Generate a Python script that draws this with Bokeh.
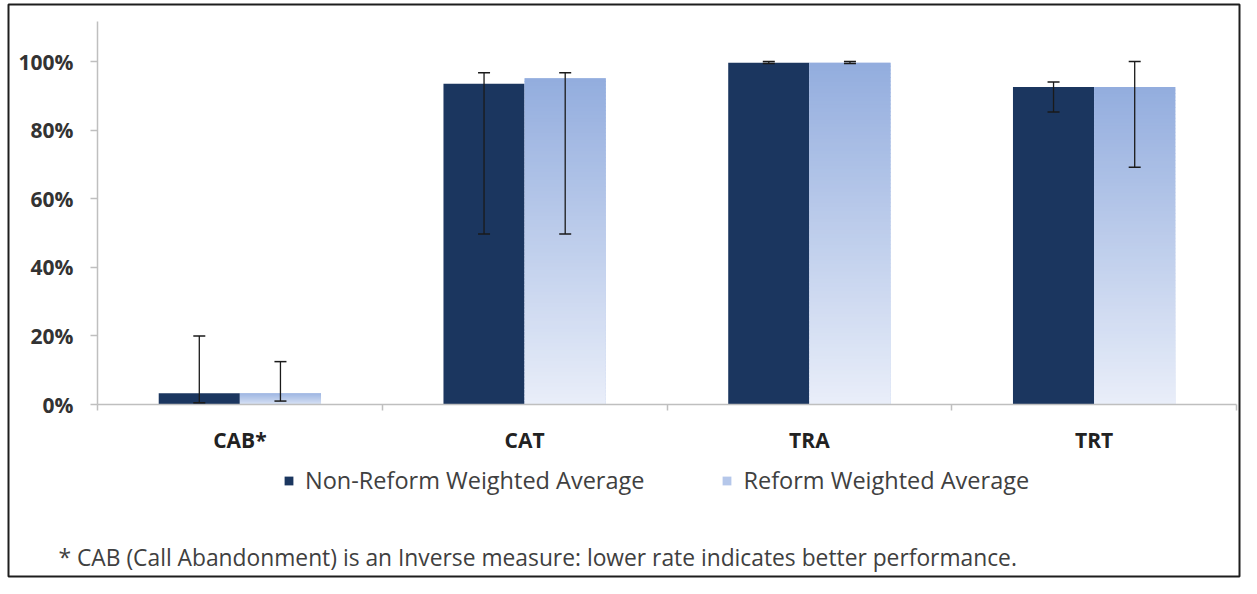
import numpy as np
from bokeh.plotting import figure
from bokeh.models import (ColumnDataSource, Range1d, FixedTicker, NumeralTickFormatter,
                          Whisker, TeeHead, Legend, LegendItem, Label, BoxAnnotation)
from bokeh.embed import file_html
from bokeh.resources import INLINE

# ---------------- data ----------------
categories = ["CAB*", "CAT", "TRA", "TRT"]
nonreform_avg = [0.033, 0.935, 0.996, 0.926]
reform_avg = [0.033, 0.951, 0.996, 0.926]
nonreform_upper = [0.200, 0.967, 1.000, 0.940]
nonreform_lower = [0.005, 0.497, 0.994, 0.853]
reform_upper = [0.125, 0.967, 1.000, 1.000]
reform_lower = [0.010, 0.497, 0.994, 0.692]
y_ticks = [0.0, 0.2, 0.4, 0.6, 0.8, 1.0]
y_axis_top = 1.117
series_names = ["Non-Reform Weighted Average", "Reform Weighted Average"]
footnote = "* CAB (Call Abandonment) is an Inverse measure: lower rate indicates better performance."

# ---------------- style / layout ----------------
DARK = "#1B365F"
LIGHT_TOP = (0x93, 0xAD, 0xDE)
LIGHT_BOTTOM = (0xE9, 0xEE, 0xF9)
LIGHT_LEGEND = "#B5C7EA"
AXIS_GRAY = "#BFBFBF"
FONT = "Open Sans"

W, H = 1241, 578
PLOT_LEFT, PLOT_RIGHT = 97, 1236      # pixel positions of the category axis ends
ZERO_Y, ONE_Y = 404, 61               # pixel positions of 0% and 100%
ppx = (PLOT_RIGHT - PLOT_LEFT) / len(categories)
ppy = ZERO_Y - ONE_Y
x_range = Range1d(-PLOT_LEFT / ppx, len(categories) + (W - PLOT_RIGHT) / ppx)
y_range = Range1d(-(H - ZERO_Y) / ppy, ZERO_Y / ppy)

p = figure(width=W, height=H, output_backend="svg", toolbar_location=None,
           x_range=x_range, y_range=y_range,
           min_border_left=0, min_border_right=0, min_border_top=0, min_border_bottom=0)
p.outline_line_color = None
p.grid.visible = False
p.background_fill_color = "white"
p.border_fill_color = "white"

centers = np.arange(len(categories)) + 0.5
bar_w = 0.285
dark_x = centers - bar_w / 2
light_x = centers + bar_w / 2

# dark bars
dark_src = ColumnDataSource(dict(x=dark_x, top=nonreform_avg))
r_dark = p.vbar(x="x", top="top", width=bar_w, bottom=0, source=dark_src,
                fill_color=DARK, line_color=None)

# light bars: base + vertical gradient slices
light_src = ColumnDataSource(dict(x=light_x, top=reform_avg))
r_light = p.vbar(x="x", top="top", width=bar_w, bottom=0, source=light_src,
                 fill_color=LIGHT_LEGEND, line_color=None)

n_slices = 90
gl, gr, gb, gt, gc = [], [], [], [], []
for xc, v in zip(light_x, reform_avg):
    for k in range(n_slices):
        t = (k + 0.5) / n_slices
        c = tuple(int(round(LIGHT_BOTTOM[j] + (LIGHT_TOP[j] - LIGHT_BOTTOM[j]) * t)) for j in range(3))
        gl.append(xc - bar_w / 2)
        gr.append(xc + bar_w / 2)
        gb.append(v * k / n_slices)
        gt.append(min(v, v * (k + 1) / n_slices + v * 0.003))
        gc.append("#%02X%02X%02X" % c)
grad_src = ColumnDataSource(dict(left=gl, right=gr, bottom=gb, top=gt, color=gc))
p.quad(left="left", right="right", bottom="bottom", top="top", fill_color="color",
       line_color=None, source=grad_src)

# error bars (drawn above the bars)
for xs, up, lo in ((dark_x, nonreform_upper, nonreform_lower),
                   (light_x, reform_upper, reform_lower)):
    es = ColumnDataSource(dict(x=xs, upper=up, lower=lo))
    wk = Whisker(source=es, base="x", upper="upper", lower="lower", dimension="height",
                 line_color="#1a1a1a", line_width=1.3, level="overlay",
                 upper_head=TeeHead(size=12, line_color="#1a1a1a", line_width=1.5),
                 lower_head=TeeHead(size=12, line_color="#1a1a1a", line_width=1.5))
    p.add_layout(wk)

# y axis (drawn at x = 0)
ya = p.yaxis[0]
ya.fixed_location = 0
ya.bounds = (0, y_axis_top)
ya.ticker = FixedTicker(ticks=y_ticks, minor_ticks=[])
ya.formatter = NumeralTickFormatter(format="0%")
ya.axis_line_color = AXIS_GRAY
ya.axis_line_width = 1.5
ya.major_tick_line_color = AXIS_GRAY
ya.major_tick_line_width = 1.5
ya.major_tick_out = 7
ya.major_tick_in = 0
ya.minor_tick_line_color = None
ya.major_label_standoff = 17
ya.major_label_text_font = FONT
ya.major_label_text_font_style = "bold"
ya.major_label_text_font_size = "21px"
ya.major_label_text_color = "#333333"

# x axis (drawn at y = 0), ticks between categories
xa = p.xaxis[0]
xa.fixed_location = 0
xa.bounds = (0, len(categories))
xa.ticker = FixedTicker(ticks=list(centers), minor_ticks=list(range(len(categories) + 1)))
xa.major_label_overrides = {float(c): name for c, name in zip(centers, categories)}
xa.axis_line_color = AXIS_GRAY
xa.axis_line_width = 1.5
xa.major_tick_line_color = None
xa.major_tick_out = 0
xa.major_tick_in = 0
xa.minor_tick_line_color = AXIS_GRAY
xa.minor_tick_line_width = 1.5
xa.minor_tick_out = 6
xa.minor_tick_in = 0
xa.major_label_standoff = 15
xa.major_label_text_font = FONT
xa.major_label_text_font_style = "bold"
xa.major_label_text_font_size = "21px"
xa.major_label_text_color = "#222222"

# legend
legend = Legend(items=[LegendItem(label=series_names[0], renderers=[r_dark]),
                       LegendItem(label=series_names[1], renderers=[r_light])],
                orientation="horizontal", location=(283, 82),
                padding=0, margin=0, spacing=77, label_standoff=11,
                glyph_width=11, glyph_height=11,
                border_line_color=None, background_fill_alpha=0,
                label_text_font=FONT, label_text_font_size="23.5px",
                label_text_color="#404040")
p.add_layout(legend, "center")

# footnote
p.add_layout(Label(x=58, y=H - 557, x_units="screen", y_units="screen", text=footnote,
                   text_font=FONT, text_font_size="22.8px", text_color="#404040",
                   text_baseline="middle", text_align="left"))

# outer frame
p.add_layout(BoxAnnotation(left=8, right=W - 2, top=4, bottom=H - 2,
                           left_units="canvas", right_units="canvas",
                           top_units="canvas", bottom_units="canvas",
                           fill_alpha=0, line_color="#1e1e1e", line_alpha=1.0,
                           line_width=2, level="overlay"))

open("out.html", "w").write(file_html(p, INLINE))
